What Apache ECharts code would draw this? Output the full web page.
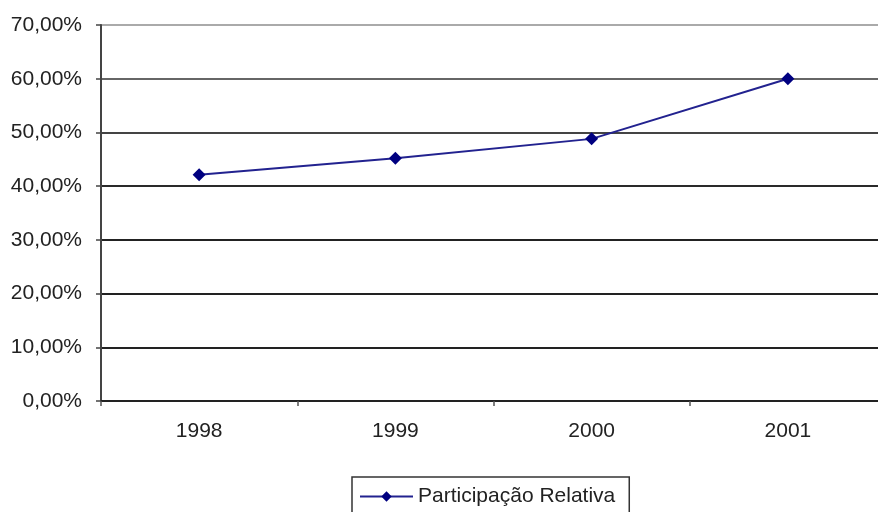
<!DOCTYPE html>
<html>
<head>
<meta charset="utf-8">
<script src="https://cdn.jsdelivr.net/npm/echarts@6/dist/echarts.min.js"></script>
<style>
  html, body { margin: 0; padding: 0; background: #fff; }
  #pic { width: 878px; height: 512px; }
</style>
</head>
<body>
<div id="pic"></div>
<script>
var years = ['1998', '1999', '2000', '2001'];
var participacao = [42.1, 45.2, 48.8, 60.0];
var seriesName = 'Participação Relativa';

var myChart = echarts.init(document.getElementById('pic'));
var option = {
    animation: false,
    textStyle: { fontFamily: 'Liberation Sans, Arial, sans-serif' },
    legend: {
        left: 352,
        top: 477,
        padding: [9, 14, 20, 7],
        borderColor: '#333',
        borderWidth: 1.5,
        itemWidth: 53,
        itemHeight: 13,
        textStyle: { fontSize: 21, color: '#222' },
        data: [seriesName]
    },
    grid: {
        left: 101,
        top: 25,
        width: 785,
        bottom: 111,
        outerBoundsMode: 'none'
    },
    xAxis: [{
        type: 'category',
        boundaryGap: true,
        data: years,
        axisLine: { lineStyle: { color: '#222', width: 2 } },
        axisTick: { show: true, length: 5, lineStyle: { color: '#555', width: 1.5 } },
        axisLabel: { fontSize: 21, color: '#222', margin: 20 }
    }],
    yAxis: [{
        type: 'value',
        min: 0,
        max: 70,
        interval: 10,
        axisLine: { show: true, lineStyle: { color: '#444', width: 2 } },
        axisTick: { show: true, length: 5, lineStyle: { color: '#444', width: 1.5 } },
        axisLabel: {
            fontSize: 21,
            color: '#222',
            margin: 19,
            formatter: function (v) { return v.toFixed(2).replace('.', ',') + '%'; }
        },
        splitLine: {
            lineStyle: {
                color: ['#222', '#222', '#222', '#222', '#2a2a2a', '#444', '#666', '#aaa'],
                width: 2
            }
        }
    }],
    series: [{
        name: seriesName,
        type: 'line',
        data: participacao,
        symbol: 'diamond',
        symbolSize: 13,
        lineStyle: { color: '#22228f', width: 2 },
        itemStyle: { color: '#000080' }
    }]
};
myChart.setOption(option);
</script>
</body>
</html>
